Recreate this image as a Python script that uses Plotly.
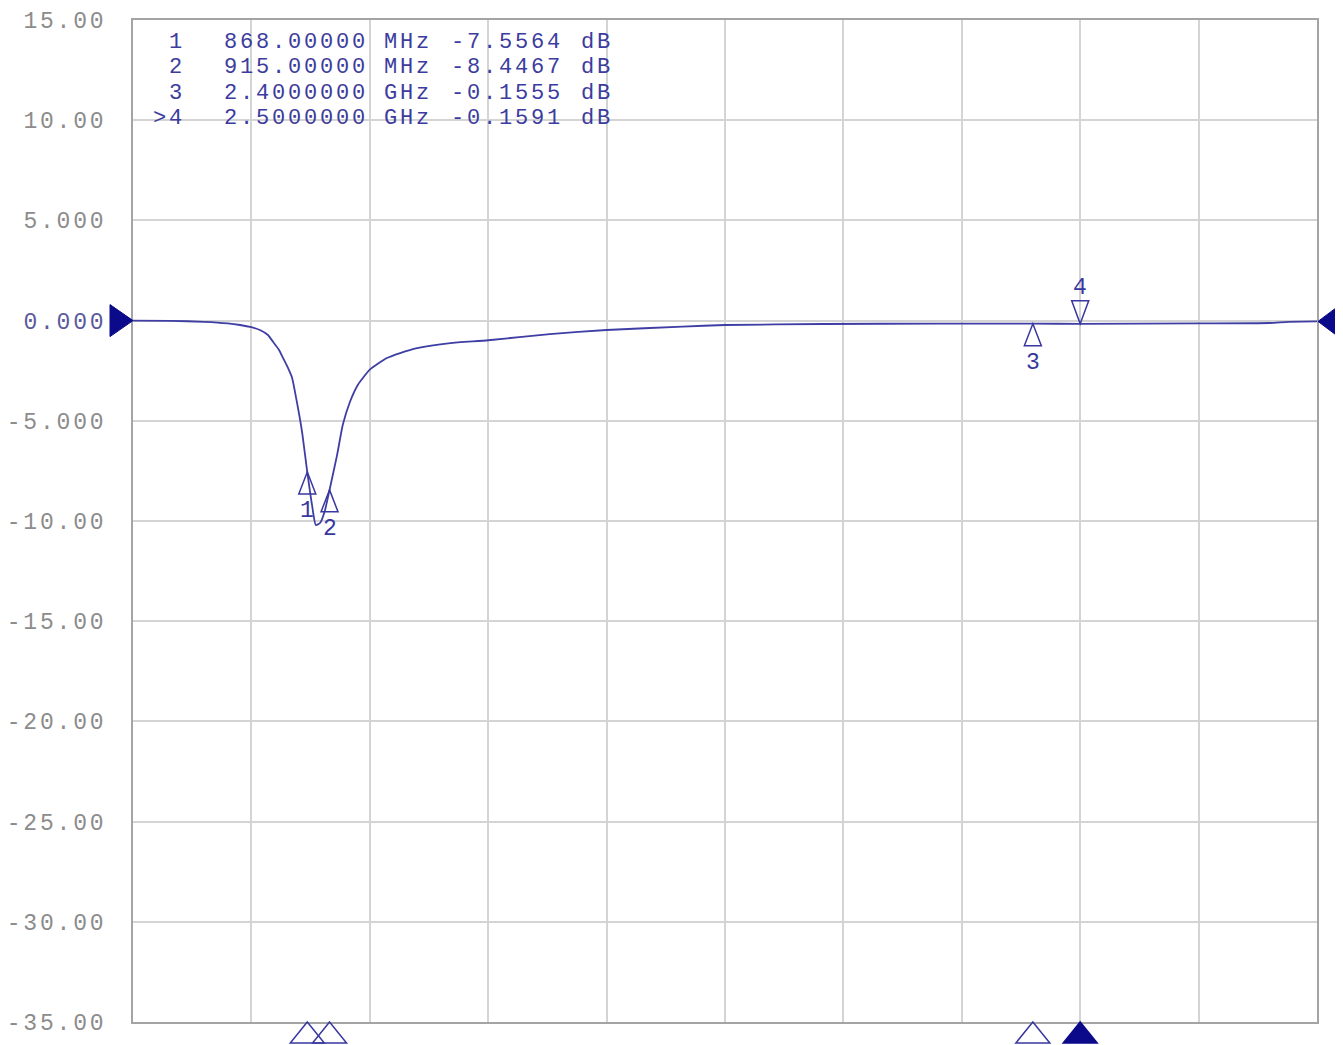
import plotly.graph_objects as go

# ---- data ----
freq_ghz = [0.500, 0.580, 0.650, 0.700, 0.726, 0.750, 0.768, 0.785, 0.796, 0.808,
            0.817, 0.827, 0.836, 0.846, 0.857, 0.868, 0.878, 0.886, 0.895, 0.905,
            0.915, 0.931, 0.943, 0.958, 0.975, 1.000, 1.036, 1.064, 1.100, 1.170,
            1.250, 1.380, 1.500, 1.660, 1.750, 1.960, 2.200, 2.400, 2.500, 2.750,
            2.900, 2.940, 3.000]
s11_db = [0.00, -0.01, -0.06, -0.14, -0.22, -0.33, -0.47, -0.72, -1.07, -1.45,
          -1.87, -2.35, -2.86, -4.06, -5.56, -7.56, -9.20, -10.20, -10.10, -9.50,
          -8.45, -6.70, -5.20, -4.06, -3.20, -2.45, -1.87, -1.62, -1.37, -1.12,
          -0.98, -0.67, -0.47, -0.30, -0.22, -0.17, -0.15, -0.1555, -0.1591, -0.14,
          -0.12, -0.06, -0.04]

marker_ids = ["1", "2", "3", ">4"]
marker_freq_ghz = [0.868, 0.915, 2.400, 2.500]
marker_db = [-7.5564, -8.4467, -0.1555, -0.1591]
active_marker = 3

y_ticks = [15, 10, 5, 0, -5, -10, -15, -20, -25, -30, -35]
x_start, x_stop, x_div = 0.5, 3.0, 0.25
ref_level = 0.0

# ---- styling ----
MONO = "Liberation Mono"
TRACE = "#3e3ea4"
MK = "#3838a0"
NAVY = "#0a0a8a"
GRID = "#d4d4d4"
FRAME = "#a4a4a4"
OFF = 8                      # page body margin offset
L, R, T, B = 133 - OFF, 26, 20 - OFF, 23
W, H = 1343 - OFF, 1045 - OFF
PW, PH = W - L - R, H - T - B
SP = "letter-spacing:2.8px"


def fmt_tick(v):
    s = f"{v:.3f}" if abs(v) < 10 else f"{v:.2f}"
    col = ";color:#5a5a9c" if v == ref_level else ""
    return f"<span style='{SP}{col}'>{s}</span>"


def fmt_freq(f):
    if f < 1:
        return f"{f * 1000:.5f}", "MHz"
    return f"{f:.7f}", "GHz"


fig = go.Figure()
fig.add_trace(go.Scatter(x=freq_ghz, y=s11_db, mode="lines",
                         line=dict(color=TRACE, width=1.8, shape="spline",
                                   smoothing=0.5),
                         hoverinfo="skip"))

shapes = []
annotations = []

# markers on trace
for i, (mid, f, v) in enumerate(zip(marker_ids, marker_freq_ghz, marker_db)):
    label = mid.replace(">", "")
    if i == active_marker:
        path = "M0,0 L8.5,23 L-8.5,23 Z"
        yshift = 36
    else:
        path = "M0,0 L8.5,-22 L-8.5,-22 Z"
        yshift = -39
    shapes.append(dict(type="path", xref="x", yref="y", xsizemode="pixel",
                       ysizemode="pixel", xanchor=f, yanchor=v, path=path,
                       line=dict(color=MK, width=1.5), fillcolor="rgba(0,0,0,0)"))
    annotations.append(dict(x=f, y=v, xref="x", yref="y", text=label, showarrow=False,
                            yshift=yshift, font=dict(family=MONO, size=23, color=MK)))
    # bottom-edge marker indicators
    filled = i == active_marker
    shapes.append(dict(type="path", xref="x", yref="paper", xsizemode="pixel",
                       ysizemode="pixel", xanchor=f, yanchor=0,
                       path="M0,0 L17,-21 L-17,-21 Z",
                       line=dict(color=NAVY if filled else MK, width=1.5),
                       fillcolor=NAVY if filled else "rgba(0,0,0,0)"))

# reference level triangles
shapes.append(dict(type="path", xref="paper", yref="y", xsizemode="pixel",
                   ysizemode="pixel", xanchor=0, yanchor=ref_level,
                   path="M0,0 L-23,16 L-23,-16 Z", line=dict(color=NAVY, width=1),
                   fillcolor=NAVY))
shapes.append(dict(type="path", xref="paper", yref="y", xsizemode="pixel",
                   ysizemode="pixel", xanchor=1, yanchor=s11_db[-1],
                   path="M1,0 L25,18 L25,-18 Z", line=dict(color=NAVY, width=1),
                   fillcolor=NAVY))

# marker table (screen pixel positions)
row_y = [42, 67.5, 93, 118.5]
cols = dict(id_r=186, freq_r=369, unit_l=383, val_r=564, db_l=580)


def px(xp):
    return (xp - 133) / PW


def py(yp):
    return (1022 - yp) / PH


tfont = dict(family=MONO, size=22, color="#3c3c9e")
for mid, f, v, yp in zip(marker_ids, marker_freq_ghz, marker_db, row_y):
    fs, unit = fmt_freq(f)
    items = [(mid, cols["id_r"], "right"), (fs, cols["freq_r"], "right"),
             (unit, cols["unit_l"], "left"), (f"{v:.4f}", cols["val_r"], "right"),
             ("dB", cols["db_l"], "left")]
    for txt, xp, anc in items:
        annotations.append(dict(x=px(xp), y=py(yp), xref="paper", yref="paper",
                                text=f"<span style='{SP}'>{txt}</span>",
                                showarrow=False, xanchor=anc,
                                yanchor="middle", font=tfont, borderpad=0))

fig.update_layout(
    width=W, height=H, margin=dict(l=L, r=R, t=T, b=B, pad=0, autoexpand=False),
    paper_bgcolor="white", plot_bgcolor="white", showlegend=False, hovermode=False,
    shapes=shapes, annotations=annotations,
    xaxis=dict(range=[x_start, x_stop], tick0=x_start, dtick=x_div, showgrid=True,
               gridcolor=GRID, gridwidth=1.5, showticklabels=False, ticks="",
               showline=True, linecolor=FRAME, linewidth=2, mirror=True,
               zeroline=False, automargin=False),
    yaxis=dict(range=[y_ticks[-1], y_ticks[0]], tickmode="array", tickvals=y_ticks,
               ticktext=[fmt_tick(v) for v in y_ticks], showgrid=True,
               gridcolor=GRID, gridwidth=1.5, ticks="", showline=True,
               linecolor=FRAME, linewidth=2, mirror=True, zeroline=False,
               automargin=False,
               tickfont=dict(family=MONO, size=23, color="#8c8c8c"),
               ticklabelstandoff=20),
)

fig.write_html("out.html")
